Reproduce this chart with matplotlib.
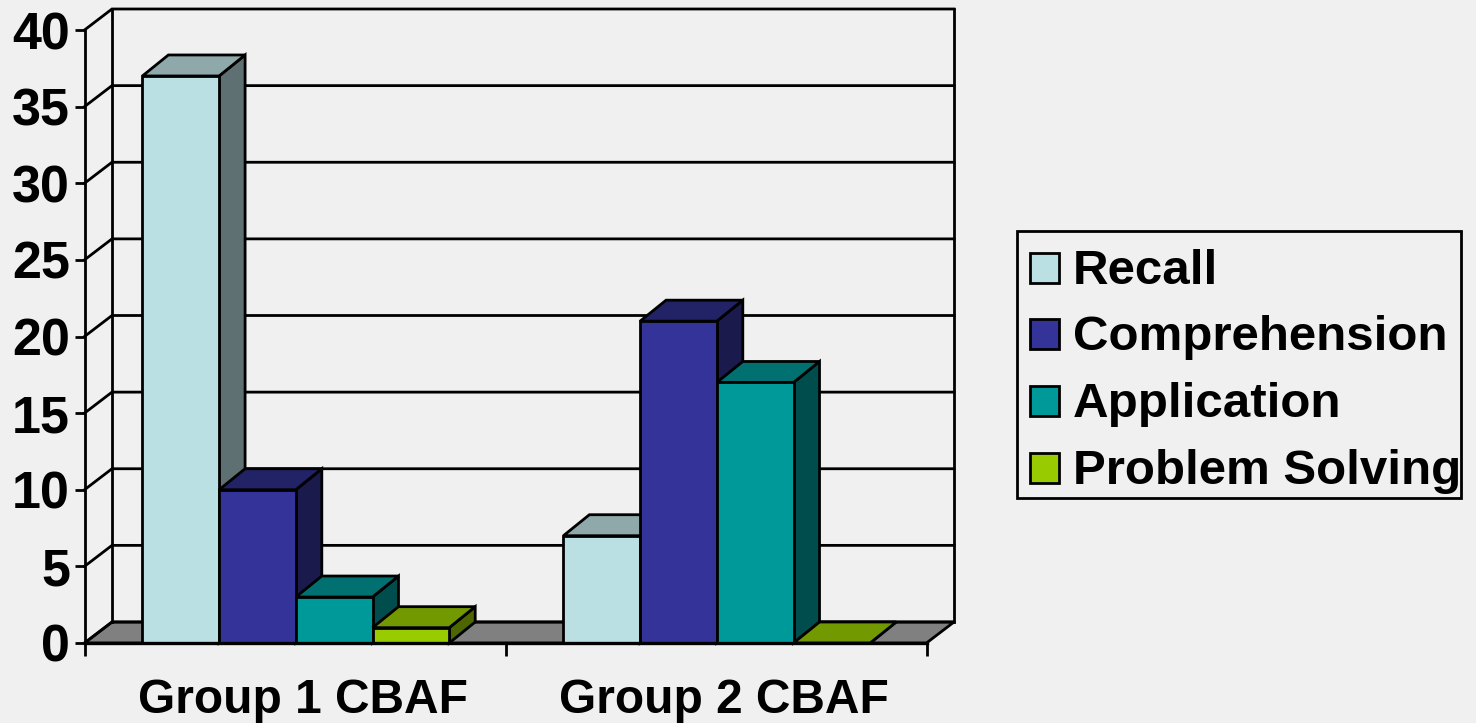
import matplotlib
matplotlib.use('Agg')
import matplotlib.pyplot as plt
from matplotlib.patches import Polygon, Rectangle

plt.rcParams['font.family'] = ['Liberation Sans', 'DejaVu Sans']

groups = ['Group 1 CBAF', 'Group 2 CBAF']
levels = ['Recall', 'Comprehension', 'Application', 'Problem Solving']
group1 = [37, 10, 3, 1]
group2 = [7, 21, 17, 0]
y_ticks = [0, 5, 10, 15, 20, 25, 30, 35, 40]

#front, top and side shades for each series
front_cols = ['#BBE0E3', '#333399', '#009999', '#99CC00']
top_cols = ['#8FA9AB', '#222266', '#007070', '#739900']
side_cols = ['#5F7072', '#1A1A4D', '#004D4D', '#4D6600']

W, H = 1476, 723
bg = '#F0F0F0'
lw = 2.0

fig = plt.figure(figsize=(W/100, H/100), dpi=100, facecolor=bg)
#axes box is the front plane of the fake 3d chart
left, right, top, bottom = 84.5, 926.5, 30, 643
ax = fig.add_axes([left/W, 1-bottom/H, (right-left)/W, (bottom-top)/H])
ax.set_xlim(0, 2)
ax.set_ylim(0, 40)
ax.patch.set_alpha(0)

#depth of the walls and of the bars, in data units
px_x = 2/(right-left)
px_y = 40/(bottom-top)
wall_dx, wall_dy = 27.5*px_x, 21*px_y
bar_dx, bar_dy = 26*px_x, 21*px_y
bar_w = 0.1822
bar_start = 0.1375


def poly(pts, fc, z):
    ax.add_patch(Polygon(pts, closed=True, facecolor=fc, edgecolor='k', lw=lw,
                         joinstyle='miter', clip_on=False, zorder=z))


#floor
poly([(0, 0), (2, 0), (2+wall_dx, wall_dy), (wall_dx, wall_dy)], '#808080', 1)

#back wall and left wall gridlines
for t in y_ticks:
    ax.plot([0, wall_dx, 2+wall_dx], [t, t+wall_dy, t+wall_dy], color='k', lw=lw,
            clip_on=False, zorder=1.5, solid_joinstyle='miter')
ax.plot([wall_dx, wall_dx], [wall_dy, 40+wall_dy], color='k', lw=lw, clip_on=False, zorder=1.5)
ax.plot([2+wall_dx, 2+wall_dx], [wall_dy, 40+wall_dy], color='k', lw=lw, clip_on=False, zorder=1.5)

#bars go left to right so each front covers the previous side
z = 2
for g, vals in enumerate([group1, group2]):
    for i, v in enumerate(vals):
        x0 = g + bar_start + i*bar_w
        x1 = x0 + bar_w
        poly([(x1, 0), (x1+bar_dx, bar_dy), (x1+bar_dx, v+bar_dy), (x1, v)], side_cols[i], z)
        poly([(x0, v), (x1, v), (x1+bar_dx, v+bar_dy), (x0+bar_dx, v+bar_dy)], top_cols[i], z)
        if v > 0:
            poly([(x0, 0), (x1, 0), (x1, v), (x0, v)], front_cols[i], z)
        z += 0.01

#axes lines and labels
for s in ['top', 'right']:
    ax.spines[s].set_visible(False)
ax.spines['left'].set_linewidth(lw)
ax.spines['bottom'].set_linewidth(lw+0.4)
ax.spines['left'].set_zorder(5)
ax.spines['bottom'].set_zorder(5)
ax.set_yticks(y_ticks)
ax.set_yticklabels([str(t) for t in y_ticks], fontsize=37.5, fontweight='bold')
ax.tick_params(axis='y', length=7, width=lw, pad=3.5)
ax.set_xticks([0, 1, 2])
ax.set_xticklabels([])
ax.tick_params(axis='x', which='major', length=9.5, width=lw)
#group labels sit a little right of the group centres
ax.set_xticks([0.518, 1.518], minor=True)
ax.set_xticklabels(groups, minor=True, fontsize=34.5, fontweight='bold')
ax.tick_params(axis='x', which='minor', length=0, pad=25)

#legend box, laid out in figure pixels
lax = fig.add_axes([0, 0, 1, 1])
lax.set_xlim(0, W)
lax.set_ylim(H, 0)
lax.axis('off')
lax.add_patch(Rectangle((1017, 231), 444, 267, facecolor='none', edgecolor='k', lw=lw))
for i, name in enumerate(levels):
    yc = 267.5 + i*66.7
    lax.add_patch(Rectangle((1030, yc-15), 29, 30, facecolor=front_cols[i], edgecolor='k', lw=lw))
    lax.text(1073, yc-1.5, name, fontsize=35.5, fontweight='bold', va='center_baseline', ha='left')

fig.savefig('out.png', dpi=100, facecolor=bg)
